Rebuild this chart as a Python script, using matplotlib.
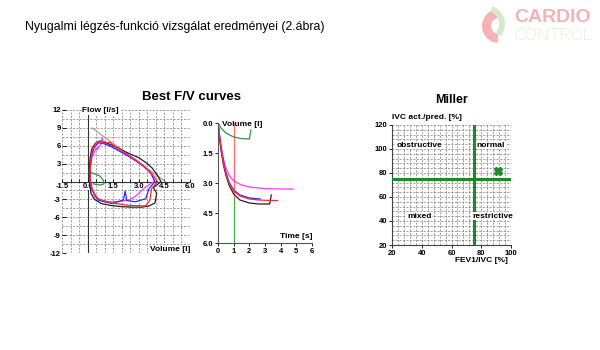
import numpy as np
import matplotlib
matplotlib.use("Agg")
import matplotlib.pyplot as plt
from matplotlib.patches import Wedge

plt.rcParams['font.family'] = ['Liberation Sans', 'DejaVu Sans']

# flow/volume loops (volume l, flow l/s)
red_v = [0.15, 0.15, 0.20, 0.30, 0.45, 0.60, 0.85, 1.05, 1.30, 1.50, 2.00, 2.50, 3.00, 3.50, 3.90, 4.10,
         3.75, 3.65, 3.40, 2.40, 1.40, 0.60, 0.30, 0.15]
red_f = [0.0, 2.0, 4.0, 5.5, 6.3, 6.7, 6.6, 6.4, 6.6, 6.1, 5.2, 4.2, 3.2, 2.0, 0.8, 0.0,
         -1.2, -3.1, -4.1, -4.0, -3.6, -2.9, -1.6, 0.0]
black_v = [0.10, 0.10, 0.15, 0.25, 0.45, 0.70, 1.00, 1.50, 2.00, 2.50, 3.00, 3.50, 3.80, 4.10, 4.30,
           4.10, 3.85, 4.05, 3.95, 3.60, 3.20, 2.50, 1.90, 1.30, 0.80, 0.40, 0.20, 0.10]
black_f = [0.0, 2.0, 4.0, 5.5, 6.4, 6.8, 6.6, 6.0, 5.3, 4.6, 4.0, 3.0, 2.2, 1.0, 0.0,
           -0.5, -1.0, -2.0, -3.6, -4.1, -4.3, -4.3, -4.2, -4.0, -3.7, -3.0, -2.0, 0.0]
blue_v = [0.15, 0.15, 0.25, 0.40, 0.65, 0.90, 1.30, 1.80, 2.30, 2.80, 3.30, 3.70, 3.95,
          3.60, 3.40, 2.80, 2.30, 2.20, 2.10, 1.40, 0.60, 0.20, 0.15]
blue_f = [0.0, 2.5, 4.5, 5.8, 6.5, 6.4, 6.0, 5.2, 4.4, 3.5, 2.5, 1.4, 0.0,
          -1.2, -2.9, -3.4, -3.2, -1.6, -3.1, -3.7, -3.1, -1.1, 0.0]
mag_v = [0.15, 0.15, 0.25, 0.50, 0.65, 0.55, 0.75, 0.85, 0.95, 1.30, 1.80, 2.30, 2.80, 3.30, 3.80, 3.90,
         3.40, 3.10, 2.80, 2.40, 1.80, 1.00, 0.40, 0.15]
mag_f = [0.0, 2.0, 4.0, 5.6, 5.8, 5.4, 6.2, 7.3, 6.4, 6.0, 5.3, 4.5, 3.7, 2.6, 1.3, 0.0,
         -0.9, -1.7, -2.5, -3.1, -3.4, -3.4, -2.6, 0.0]
pred_v = [0.25, 4.55]
pred_f = [9.0, 0.0]
tidal_v = [0.10, 0.40, 0.73, 0.92, 0.96, 0.73, 0.34]
tidal_f = [1.6, 1.3, 0.9, 0.2, -0.4, -0.6, -0.4]

# volume/time curves (s, l)
red_t = [0.0, 0.1, 0.2, 0.35, 0.5, 0.7, 1.0, 1.4, 2.0, 2.6, 3.2, 3.8]
red_vol = [0.0, 0.7, 1.3, 2.0, 2.5, 3.0, 3.4, 3.65, 3.8, 3.85, 3.87, 3.88]
blue_t = [0.0, 0.1, 0.2, 0.35, 0.5, 0.7, 1.0, 1.4, 2.0, 2.7]
blue_vol = [0.0, 0.65, 1.25, 1.95, 2.45, 2.95, 3.35, 3.6, 3.75, 3.8]
mag_t = [0.0, 0.1, 0.2, 0.35, 0.5, 0.7, 1.0, 1.5, 2.0, 3.0, 4.0, 4.8]
mag_vol = [0.0, 0.6, 1.15, 1.8, 2.25, 2.6, 2.9, 3.1, 3.2, 3.28, 3.3, 3.3]
black_t = [0.0, 0.1, 0.2, 0.35, 0.5, 0.7, 1.0, 1.4, 2.0, 2.6, 3.3, 3.4]
black_vol = [0.0, 0.75, 1.4, 2.1, 2.6, 3.1, 3.55, 3.85, 4.0, 4.05, 4.05, 3.6]
green_t = [0.0, 0.2, 0.5, 1.0, 1.5, 2.0, 2.1]
green_vol = [0.0, 0.25, 0.5, 0.7, 0.78, 0.8, 0.35]
mark_t = 1.0
mark_split = 3.8

# Miller diagram
fev1_ivc = 91
ivc_pred = 82
miller_cut = 75

fv_xticks = [-1.5, 0.0, 1.5, 3.0, 4.5, 6.0]
fv_yticks = [-12, -9, -6, -3, 3, 6, 9, 12]
vt_xticks = [0, 1, 2, 3, 4, 5, 6]
vt_yticks = [0.0, 1.5, 3.0, 4.5, 6.0]
mi_xticks = [20, 40, 60, 80, 100]
mi_yticks = [20, 40, 60, 80, 100, 120]

RED = '#ff2a2a'
BLUE = '#2b2bff'
MAG = '#ff3cff'
BLK = '#222222'
GRN = '#2f9a35'
GRID = dict(color='#7a7a7a', lw=0.5, ls=(0, (3, 2)), zorder=0)
TICKF = dict(fontsize=5.5, fontweight='bold')
lab_bg = dict(facecolor='white', edgecolor='none', pad=0.4)

fig = plt.figure(figsize=(6, 3.5), dpi=100)

fig.text(25/600, 1-27/350, 'Nyugalmi légzés-funkció vizsgálat eredményei (2.ábra)',
         fontsize=8.8, ha='left', va='center')
fig.text(191/600, 1-97/350, 'Best F/V curves', fontsize=9.5, fontweight='bold', ha='center', va='center')
fig.text(452/600, 1-100/350, 'Miller', fontsize=9, fontweight='bold', ha='center', va='center')

# --- flow / volume
ax1 = fig.add_axes([62/600, 1-253/350, 128/600, 143/350])
ax1.set_xlim(-1.5, 6.0)
ax1.set_ylim(-12, 12)
ax1.vlines(np.arange(-1.5, 6.01, 0.5), -12, 12, **GRID)
ax1.hlines(np.arange(-12, 12.01, 1.5), -1.5, 6.0, **GRID)
for s in ['top', 'right', 'left']:
    ax1.spines[s].set_visible(False)
ax1.spines['bottom'].set_position(('data', 0))
ax1.spines['bottom'].set_color('#333333')
ax1.spines['bottom'].set_linewidth(0.8)
ax1.axvline(0, color='#333333', lw=0.8, zorder=1)
ax1.set_xticks(fv_xticks)
ax1.set_xticklabels(['%.1f' % v for v in fv_xticks], **TICKF)
ax1.set_yticks(fv_yticks)
ax1.set_yticklabels([str(v) for v in fv_yticks], **TICKF)
ax1.set_xticks(np.arange(-1.5, 6.01, 0.5), minor=True)
ax1.tick_params(axis='x', which='both', direction='in', length=2.5, pad=1, width=0.6)
ax1.tick_params(axis='y', direction='in', length=3, pad=1, width=0.6)
for lab in ax1.get_xticklabels():
    lab.set_bbox(lab_bg)
ax1.plot(pred_v, pred_f, color='#9a9a9a', lw=0.8, zorder=2)
ax1.plot(tidal_v, tidal_f, color=GRN, lw=0.9, zorder=3)
ax1.plot(black_v, black_f, color=BLK, lw=0.9, zorder=3)
ax1.plot(mag_v, mag_f, color=MAG, lw=0.9, zorder=3)
ax1.plot(blue_v, blue_f, color=BLUE, lw=0.9, zorder=4)
ax1.plot(red_v, red_f, color=RED, lw=0.9, zorder=4)
ax1.text(-0.3, 11.9, 'Flow [l/s]', fontsize=6, fontweight='bold', ha='left', va='center',
         bbox=lab_bg, zorder=5)
ax1.text(6.05, -11.4, 'Volume [l]', fontsize=6, fontweight='bold', ha='right', va='center',
         bbox=lab_bg, zorder=5)

# --- volume / time
ax2 = fig.add_axes([218/600, 1-243/350, 94/600, 120/350])
ax2.set_xlim(0, 6)
ax2.set_ylim(6, 0)
for s in ['top', 'right']:
    ax2.spines[s].set_visible(False)
for s in ['left', 'bottom']:
    ax2.spines[s].set_color('#555555')
    ax2.spines[s].set_linewidth(0.8)
ax2.set_xticks(vt_xticks)
ax2.set_xticklabels([str(v) for v in vt_xticks], **TICKF)
ax2.set_yticks(vt_yticks)
ax2.set_yticklabels(['%.1f' % v for v in vt_yticks], **TICKF)
ax2.tick_params(length=2, pad=1.5, width=0.6)
ax2.plot([mark_t, mark_t], [0, mark_split], color='#ff6a6a', lw=0.9)
ax2.plot([mark_t, mark_t], [mark_split, 6], color='#3cb043', lw=0.9)
ax2.plot(green_t, green_vol, color=GRN, lw=0.9)
ax2.plot(mag_t, mag_vol, color=MAG, lw=0.9)
ax2.plot(black_t, black_vol, color=BLK, lw=0.9)
ax2.plot(blue_t, blue_vol, color=BLUE, lw=0.9)
ax2.plot(red_t, red_vol, color=RED, lw=0.9)
ax2.text(0.25, 0.1, 'Volume [l]', fontsize=6, fontweight='bold', ha='left', va='center')
ax2.text(6.0, 5.65, 'Time [s]', fontsize=6, fontweight='bold', ha='right', va='center')

# --- Miller
ax3 = fig.add_axes([392/600, 1-245/350, 119/600, 120/350])
ax3.set_xlim(20, 100)
ax3.set_ylim(20, 120)
ax3.vlines(np.arange(24, 100.1, 4), 20, 120, **GRID)
ax3.hlines(np.arange(24, 120.1, 4), 20, 100, **GRID)
for s in ['top', 'right']:
    ax3.spines[s].set_visible(False)
for s in ['left', 'bottom']:
    ax3.spines[s].set_color('#444444')
    ax3.spines[s].set_linewidth(0.8)
ax3.set_xticks(mi_xticks)
ax3.set_xticklabels([str(v) for v in mi_xticks], **TICKF)
ax3.set_yticks(mi_yticks)
ax3.set_yticklabels([str(v) for v in mi_yticks], **TICKF)
ax3.tick_params(length=2, pad=1.5, width=0.6)
ax3.axvline(miller_cut, color='#1e8a24', lw=2.2, zorder=3)
ax3.axhline(miller_cut, color='#1e8a24', lw=2.2, zorder=3)
ax3.plot([fev1_ivc], [ivc_pred], marker='X', ms=6, color='#1e8a24', mec='#1e8a24', zorder=4)
for x, y, s in [(23, 103, 'obstructive'), (77, 103, 'normal'), (30, 44, 'mixed'), (74, 44, 'restrictive')]:
    ax3.text(x, y, s, fontsize=6, fontweight='bold', ha='left', va='center', bbox=lab_bg, zorder=5)
ax3.text(20, 126, 'IVC act./pred. [%]', fontsize=6, fontweight='bold', ha='left', va='center', clip_on=False)
ax3.text(98, 7.5, 'FEV1/IVC [%]', fontsize=6, fontweight='bold', ha='right', va='center', clip_on=False)

# --- logo
axl = fig.add_axes([478/600, 1-50/350, 122/600, 50/350])
axl.set_xlim(0, 122)
axl.set_ylim(0, 50)
axl.axis('off')
axl.add_patch(Wedge((21, 24), 17, 95, 265, width=9, facecolor='#f6b3b6', edgecolor='none'))
axl.add_patch(Wedge((8, 26), 19, -40, 70, width=6, facecolor='#d3eacb', edgecolor='none'))
axl.text(36, 32, 'CARDIO', fontsize=14, fontweight='bold', color='#f6b3b6', ha='left', va='center')
axl.text(37, 14, 'CONTROL', fontsize=12.5, color='#cde6c4', ha='left', va='center',
         family=['Roboto', 'DejaVu Sans'], fontweight='light')

plt.savefig('out.png', dpi=100)
